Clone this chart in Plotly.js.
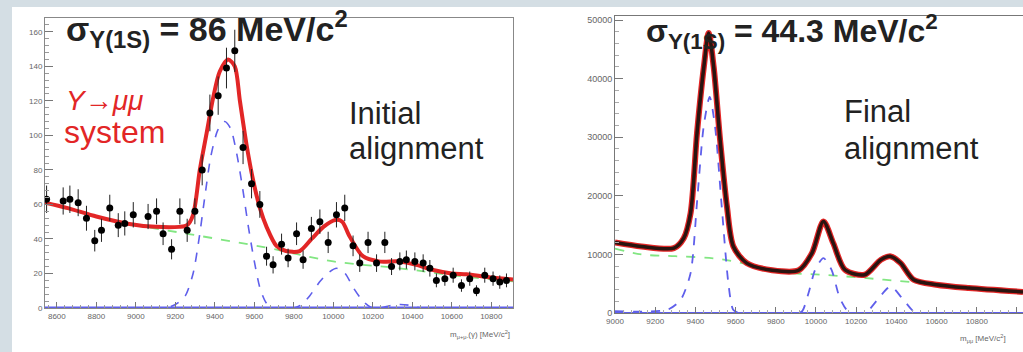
<!DOCTYPE html>
<html>
<head>
<meta charset="utf-8">
<script src="https://cdn.plot.ly/plotly-3.0.1.min.js"></script>
<style>
html,body{margin:0;padding:0;background:#d4dee4;overflow:hidden;}
#chart{width:1023px;height:352px;}
</style>
</head>
<body>
<div id="chart"></div>
<script>
// ---------- Initial alignment (left) ----------
const initMass = [8548, 8632, 8666, 8708, 8750, 8792, 8826, 8868, 8911, 8944,
  8987, 9062, 9105, 9138, 9181, 9223, 9260, 9299, 9336, 9375,
  9417, 9459, 9501, 9543, 9586, 9628, 9662, 9695, 9738, 9771,
  9814, 9847, 9889, 9932, 9974, 10016, 10058, 10100, 10134, 10176,
  10219, 10261, 10295, 10337, 10370, 10413, 10455, 10489, 10522, 10565,
  10607, 10649, 10691, 10725, 10767, 10809, 10843, 10877];
const initCounts = [63, 62, 63, 61, 52, 39, 45, 58, 48, 49,
  54, 53, 56, 43, 34, 56, 45, 56, 80, 113,
  123, 139, 149, 93, 72, 60, 30, 25, 37, 29,
  43, 28, 46, 50, 38, 54, 58, 36, 26, 38,
  26, 38, 24, 27, 28, 27, 26, 23, 16, 17,
  19, 13, 17, 10, 19, 17, 15, 16];

const initFitMass = [8540, 8650, 8800, 8950, 9100, 9220, 9260, 9290, 9324, 9358,
  9392, 9425, 9467, 9501, 9527, 9560, 9594, 9628, 9662, 9712,
  9760, 9830, 9890, 9950, 10010, 10045, 10080, 10150, 10230, 10337,
  10420, 10506, 10600, 10675, 10780, 10910];
const initFitTotal = [61, 58, 53, 49, 47, 47, 48, 54, 80, 101,
  122, 137, 144, 140, 120, 95, 74, 58, 47, 36,
  33, 33, 40, 47, 51, 50, 42, 30, 27, 27,
  25, 22, 20, 19.5, 18, 16.5];

const initSigMass = [8540, 9150, 9200, 9250, 9290, 9320, 9350, 9380, 9415, 9450,
  9480, 9510, 9540, 9570, 9600, 9630, 9660, 9690, 9800, 9840,
  9880, 9930, 9970, 10016, 10060, 10100, 10150, 10190, 10240, 10290,
  10340, 10390, 10440, 10910];
const initSigValues = [0, 0, 2, 7, 20, 40, 65, 88, 103, 108,
  104, 90, 70, 47, 27, 11, 3, 0, 0, 2,
  7, 15, 20, 23, 20, 12, 4, 0.5, 0, 1.5,
  2, 1.5, 0, 0];

const initBkgMass = [8540, 8800, 9000, 9260, 9660, 10000, 10337, 10600, 10910];
const initBkgValues = [61, 53, 48, 43, 35, 27, 23, 19, 15.5];

// ---------- Final alignment (right) ----------
const finalMass = [9000, 9132, 9293, 9342, 9376, 9408, 9442, 9466, 9491, 9523,
  9557, 9589, 9655, 9782, 9914, 9980, 10037, 10086, 10144, 10242,
  10323, 10372, 10421, 10486, 10599, 10761, 11030];
const finalTotal = [12040, 11360, 11080, 12780, 17040, 30670, 42000, 47800, 42000, 29500,
  18180, 11360, 8520, 7300, 7300, 10220, 15620, 11930, 7380, 6530,
  9090, 9660, 8520, 5680, 4830, 4260, 3600];

const finalSigMass = [9000, 9262, 9327, 9376, 9409, 9441, 9471, 9498, 9531, 9564,
  9588, 9620, 9900, 9931, 9963, 9996, 10037, 10077, 10118, 10159,
  10200, 10230, 10257, 10306, 10371, 10428, 10485, 10520, 11030];
const finalSigValues = [300, 570, 2270, 6800, 19300, 31800, 36900, 31800, 18200, 5100,
  570, 0, 0, 300, 3400, 7400, 9370, 7400, 2600, 300,
  0, 0, 300, 2270, 4540, 2560, 300, 0, 0];

const finalBkgMass = [9000, 9132, 9300, 9500, 9660, 9800, 10000, 10200, 10400, 10600, 10800, 11030];
const finalBkgValues = [11000, 10000, 9700, 9300, 8300, 7000, 6600, 6100, 5500, 4900, 4300, 3700];

// tick labels
const initXTicks = [8600, 8800, 9000, 9200, 9400, 9600, 9800, 10000, 10200, 10400, 10600, 10800];
const initYTicks = [0, 20, 40, 60, 80, 100, 120, 140, 160];
const finalXTicks = [9000, 9200, 9400, 9600, 9800, 10000, 10200, 10400, 10600, 10800, 11000];
const finalYTicks = [0, 10000, 20000, 30000, 40000, 50000];

// ---------- drawing ----------
const W = 1023, H = 352;
const px = x => x / W;
const py = y => 1 - y / H;

const RED = 'rgb(226,38,38)';
const BLUE = 'rgb(95,95,235)';
const GREEN = 'rgb(130,230,130)';

const traces = [
  {x: initBkgMass, y: initBkgValues, xaxis: 'x', yaxis: 'y', mode: 'lines',
   line: {color: GREEN, width: 1.8, dash: 'dash', shape: 'spline'}, hoverinfo: 'skip'},
  {x: initSigMass, y: initSigValues, xaxis: 'x', yaxis: 'y', mode: 'lines',
   line: {color: BLUE, width: 1.6, dash: 'dash', shape: 'spline', smoothing: 0.7}, hoverinfo: 'skip'},
  {x: [8540, 10910], y: [0, 0], xaxis: 'x', yaxis: 'y', mode: 'lines',
   line: {color: BLUE, width: 3}, hoverinfo: 'skip'},
  {x: initFitMass, y: initFitTotal, xaxis: 'x', yaxis: 'y', mode: 'lines',
   line: {color: RED, width: 4, shape: 'spline', smoothing: 0.8}, hoverinfo: 'skip'},
  {x: initMass, y: initCounts, xaxis: 'x', yaxis: 'y', mode: 'markers',
   marker: {color: 'black', size: 7},
   error_y: {type: 'sqrt', color: '#222', thickness: 1, width: 0}},

  {x: finalBkgMass, y: finalBkgValues, xaxis: 'x2', yaxis: 'y2', mode: 'lines',
   line: {color: GREEN, width: 1.8, dash: 'dash', shape: 'spline'}, hoverinfo: 'skip'},
  {x: finalSigMass, y: finalSigValues, xaxis: 'x2', yaxis: 'y2', mode: 'lines',
   line: {color: BLUE, width: 1.8, dash: 'dash', shape: 'spline', smoothing: 0.7}, hoverinfo: 'skip'},
  {x: [9000, 11030], y: [0, 0], xaxis: 'x2', yaxis: 'y2', mode: 'lines',
   line: {color: BLUE, width: 2}, hoverinfo: 'skip'},
  {x: finalMass, y: finalTotal, xaxis: 'x2', yaxis: 'y2', mode: 'lines',
   line: {color: RED, width: 6, shape: 'spline', smoothing: 0.8}, hoverinfo: 'skip'},
  {x: finalMass, y: finalTotal, xaxis: 'x2', yaxis: 'y2', mode: 'lines',
   line: {color: '#2a1410', width: 3.5, shape: 'spline', smoothing: 0.8}, hoverinfo: 'skip'}
];

const FONT = 'Liberation Sans, Arial, sans-serif';

const axCommon = {
  showline: true, mirror: true, linecolor: '#888', linewidth: 1,
  ticks: 'inside', tickcolor: '#777', showgrid: false, zeroline: false,
  tickformat: 'd',
  tickfont: {family: FONT, size: 8, color: '#666'}
};

const layout = {
  width: W, height: H,
  margin: {l: 0, r: 0, t: 0, b: 0, pad: 0},
  paper_bgcolor: '#d4dee4',
  plot_bgcolor: 'white',
  showlegend: false,
  font: {family: FONT},
  xaxis: Object.assign({}, axCommon, {
    domain: [px(45), px(513)], range: [8540, 10910], anchor: 'y',
    tickvals: initXTicks, ticklen: 6,
    minor: {dtick: 40, tick0: 8600, ticklen: 3, ticks: 'inside', tickcolor: '#999'}
  }),
  yaxis: Object.assign({}, axCommon, {
    domain: [py(308), py(18)], range: [0, 168], anchor: 'x',
    tickvals: initYTicks, ticklen: 8,
    minor: {dtick: 4, ticklen: 4, ticks: 'inside', tickcolor: '#999'}
  }),
  xaxis2: Object.assign({}, axCommon, {
    domain: [px(615), 1], range: [9000, 11030], anchor: 'y2',
    tickvals: finalXTicks, ticklen: 6, linecolor: '#777',
    minor: {dtick: 40, tick0: 9000, ticklen: 3, ticks: 'inside', tickcolor: '#aaa'}
  }),
  yaxis2: Object.assign({}, axCommon, {
    domain: [py(313), py(16)], range: [0, 50700], anchor: 'x2',
    tickvals: finalYTicks, ticklen: 8, linecolor: '#777',
    tickfont: {family: FONT, size: 9, color: '#666'},
    minor: {dtick: 2000, ticklen: 4, ticks: 'inside', tickcolor: '#aaa'}
  }),
  shapes: [
    {type: 'rect', xref: 'paper', yref: 'paper', x0: px(12), x1: 1, y0: 0, y1: py(7),
     fillcolor: 'white', line: {width: 0}, layer: 'below'}
  ],
  annotations: [
    {xref: 'paper', yref: 'paper', x: px(64), y: py(29), xanchor: 'left', yanchor: 'middle',
     text: '<b>σ<sub>Υ(1S)</sub> = 86 MeV/c<sup>2</sup></b>', showarrow: false,
     font: {family: FONT, size: 34, color: '#222'}},
    {xref: 'paper', yref: 'paper', x: px(64), y: py(100), xanchor: 'left', yanchor: 'middle',
     text: '<i>Υ→μμ</i>', showarrow: false,
     font: {family: FONT, size: 28, color: RED}},
    {xref: 'paper', yref: 'paper', x: px(62), y: py(132), xanchor: 'left', yanchor: 'middle',
     text: 'system', showarrow: false,
     font: {family: FONT, size: 32, color: RED}},
    {xref: 'paper', yref: 'paper', x: px(347), y: py(113), xanchor: 'left', yanchor: 'middle',
     text: 'Initial', showarrow: false,
     font: {family: FONT, size: 31, color: '#222'}},
    {xref: 'paper', yref: 'paper', x: px(347), y: py(148), xanchor: 'left', yanchor: 'middle',
     text: 'alignment', showarrow: false,
     font: {family: FONT, size: 31, color: '#222'}},
    {xref: 'paper', yref: 'paper', x: px(644), y: py(31), xanchor: 'left', yanchor: 'middle',
     text: '<b>σ<sub>Υ(1S)</sub> = 44.3 MeV/c<sup>2</sup></b>', showarrow: false,
     font: {family: FONT, size: 32, color: '#222'}},
    {xref: 'paper', yref: 'paper', x: px(842), y: py(112), xanchor: 'left', yanchor: 'middle',
     text: 'Final', showarrow: false,
     font: {family: FONT, size: 31, color: '#222'}},
    {xref: 'paper', yref: 'paper', x: px(842), y: py(148), xanchor: 'left', yanchor: 'middle',
     text: 'alignment', showarrow: false,
     font: {family: FONT, size: 31, color: '#222'}},
    {xref: 'paper', yref: 'paper', x: px(512), y: py(334), xanchor: 'right', yanchor: 'middle',
     text: 'm<sub>μ+μ-</sub>(γ) [MeV/c<sup>2</sup>]', showarrow: false,
     font: {family: FONT, size: 8, color: '#666'}},
    {xref: 'paper', yref: 'paper', x: px(958), y: py(338), xanchor: 'left', yanchor: 'middle',
     text: 'm<sub>μμ</sub> [MeV/c<sup>2</sup>]', showarrow: false,
     font: {family: FONT, size: 8, color: '#666'}}
  ]
};

Plotly.newPlot('chart', traces, layout, {staticPlot: true, displayModeBar: false});
</script>
</body>
</html>
